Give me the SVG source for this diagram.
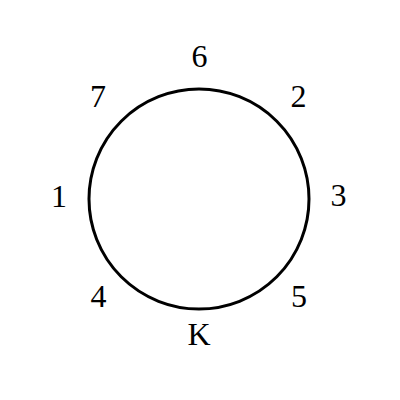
<svg xmlns="http://www.w3.org/2000/svg" width="400" height="400" viewBox="0 0 400 400">
<style>
.lbl{font-family:"Liberation Serif","Times New Roman",serif;font-size:32px;fill:#000;text-anchor:middle}
</style>
<rect width="400" height="400" fill="#fff"/>
<g id="connectors"/>
<g id="ring"><circle cx="199" cy="199" r="110" fill="none" stroke="#000" stroke-width="3"/></g>
<g id="n6"><text class="lbl" x="199.5" y="67">6</text></g>
<g id="n2"><text class="lbl" x="298.5" y="106.5">2</text></g>
<g id="n3"><text class="lbl" x="338.5" y="206">3</text></g>
<g id="n5"><text class="lbl" x="299" y="307">5</text></g>
<g id="nK"><text class="lbl" x="199" y="345">K</text></g>
<g id="n4"><text class="lbl" x="98.5" y="307">4</text></g>
<g id="n1"><text class="lbl" x="59" y="206.5">1</text></g>
<g id="n7"><text class="lbl" x="98" y="106.5">7</text></g>
</svg>
